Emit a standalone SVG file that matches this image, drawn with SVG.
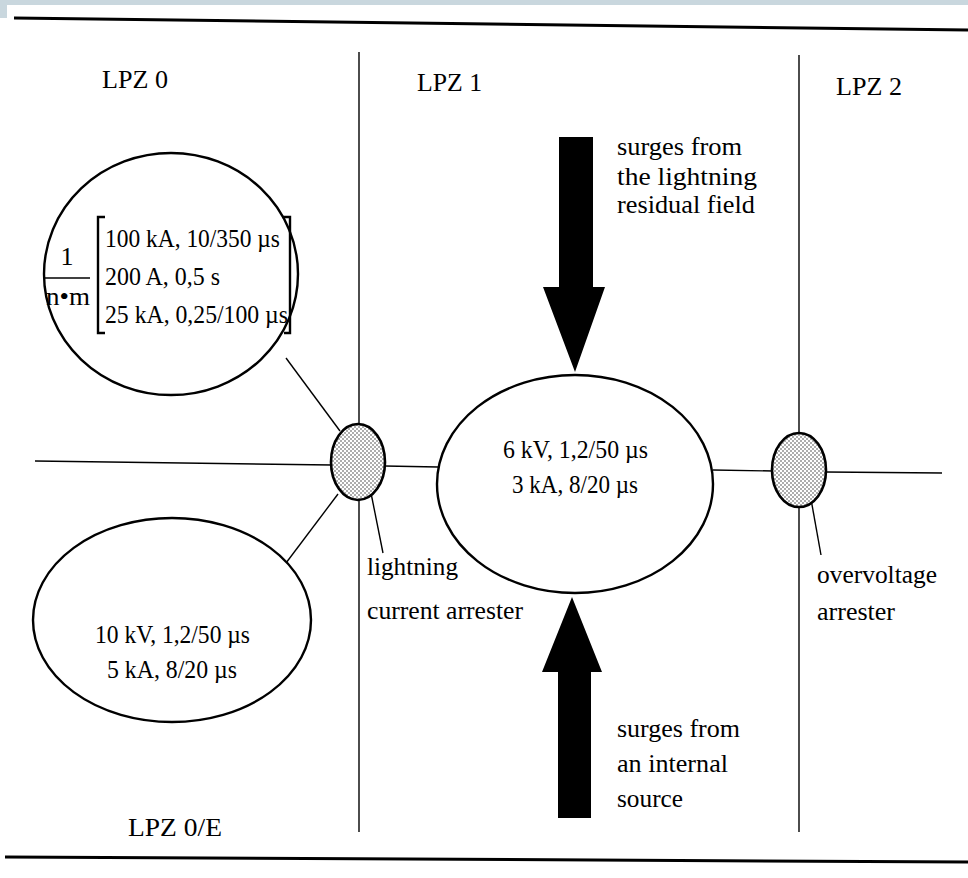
<svg xmlns="http://www.w3.org/2000/svg" width="968" height="878" viewBox="0 0 968 878">
<style>
text{font-family:"Liberation Serif","Times New Roman",serif;fill:#000;}
.lpz{font-size:26px;}
.val{font-size:26px;}
.lbl{font-size:26px;}
.ln{stroke:#000;stroke-width:1.4;fill:none;}
.el{stroke:#000;stroke-width:2.4;fill:#fff;}
.ar{stroke:#000;stroke-width:2.6;fill:url(#dots);}
</style>
<defs>
<pattern id="dots" width="4" height="4" patternUnits="userSpaceOnUse">
<rect width="4" height="4" fill="#fff"/>
<circle cx="1" cy="1" r="0.8" fill="#444"/>
<circle cx="3" cy="3" r="0.8" fill="#444"/>
</pattern>
</defs>
<rect width="968" height="878" fill="#fff"/>
<rect x="0" y="0" width="968" height="5" fill="#c9d7de"/>
<rect x="0" y="0" width="7" height="18" fill="#c9d7de"/>
<line x1="14" y1="18" x2="968" y2="30" stroke="#000" stroke-width="3"/>
<line x1="5" y1="857" x2="968" y2="862" stroke="#000" stroke-width="3"/>

<g id="connectors">
<line class="ln" x1="359" y1="52" x2="359" y2="832"/>
<line class="ln" x1="799" y1="55" x2="799" y2="832"/>
<line class="ln" x1="35" y1="461" x2="332" y2="465"/>
<line class="ln" x1="385" y1="466" x2="438" y2="467"/>
<line class="ln" x1="713" y1="470" x2="773" y2="471"/>
<line class="ln" x1="826" y1="472" x2="942" y2="473"/>
<line class="ln" x1="286" y1="358" x2="340" y2="431"/>
<line class="ln" x1="338" y1="494" x2="283" y2="567"/>
<line class="ln" x1="370" y1="488" x2="383" y2="553"/>
<line class="ln" x1="809" y1="488" x2="821" y2="555"/>
<polygon id="arrow-down" points="559,137 593,137 593,287 605,287 575,372 543,287 559,287" fill="#000"/>
<polygon id="arrow-up" points="572,597 602,672 591,672 591,818 558,818 558,672 542,672" fill="#000"/>
</g>

<g id="zone-labels">
<text class="lpz" x="102" y="88" textLength="66" lengthAdjust="spacingAndGlyphs">LPZ 0</text>
<text class="lpz" x="417" y="91" textLength="65" lengthAdjust="spacingAndGlyphs">LPZ 1</text>
<text class="lpz" x="836" y="95" textLength="66" lengthAdjust="spacingAndGlyphs">LPZ 2</text>
<text class="lpz" x="128" y="836" textLength="94" lengthAdjust="spacingAndGlyphs">LPZ 0/E</text>
</g>

<g id="node-lpz0-lightning">
<ellipse class="el" cx="171" cy="274" rx="127" ry="121"/>
<text class="val" x="67" y="265" text-anchor="middle">1</text>
<line x1="45" y1="278" x2="90" y2="278" stroke="#000" stroke-width="1.6"/>
<text class="val" x="46" y="305" textLength="44" lengthAdjust="spacingAndGlyphs">n•m</text>
<path d="M105,217 L98,217 L98,333 L105,333" stroke="#000" stroke-width="2.4" fill="none"/>
<path d="M282,217 L290,217 L290,333 L284,333" stroke="#000" stroke-width="2.4" fill="none"/>
<text class="val" x="105" y="247" textLength="175" lengthAdjust="spacingAndGlyphs">100 kA,  10/350 µs</text>
<text class="val" x="105" y="285" textLength="115" lengthAdjust="spacingAndGlyphs">200 A, 0,5 s</text>
<text class="val" x="105" y="323" textLength="183" lengthAdjust="spacingAndGlyphs">25 kA, 0,25/100 µs</text>
</g>

<g id="node-lpz0e">
<ellipse class="el" cx="172" cy="620" rx="139" ry="102"/>
<text class="val" x="95" y="643" textLength="155" lengthAdjust="spacingAndGlyphs">10 kV, 1,2/50 µs</text>
<text class="val" x="107" y="678" textLength="130" lengthAdjust="spacingAndGlyphs">5 kA, 8/20 µs</text>
</g>

<g id="node-lpz1">
<ellipse class="el" cx="575" cy="484" rx="138" ry="109"/>
<text class="val" x="503" y="458" textLength="145" lengthAdjust="spacingAndGlyphs">6 kV, 1,2/50 µs</text>
<text class="val" x="512" y="493" textLength="126" lengthAdjust="spacingAndGlyphs">3 kA, 8/20 µs</text>
</g>

<g id="node-lightning-arrester">
<ellipse class="ar" cx="358" cy="462" rx="27" ry="38"/>
<text class="lbl" x="367" y="575" textLength="91" lengthAdjust="spacingAndGlyphs">lightning</text>
<text class="lbl" x="367" y="619" textLength="156" lengthAdjust="spacingAndGlyphs">current arrester</text>
</g>

<g id="node-overvoltage-arrester">
<ellipse class="ar" cx="799" cy="470" rx="27" ry="37"/>
<text class="lbl" x="817" y="583" textLength="120" lengthAdjust="spacingAndGlyphs">overvoltage</text>
<text class="lbl" x="817" y="620" textLength="78" lengthAdjust="spacingAndGlyphs">arrester</text>
</g>

<g id="label-residual">
<text class="lbl" x="617" y="155" textLength="125" lengthAdjust="spacingAndGlyphs">surges from</text>
<text class="lbl" x="617" y="185" textLength="140" lengthAdjust="spacingAndGlyphs">the lightning</text>
<text class="lbl" x="617" y="213" textLength="138" lengthAdjust="spacingAndGlyphs">residual field</text>
</g>

<g id="label-internal">
<text class="lbl" x="617" y="737" textLength="123" lengthAdjust="spacingAndGlyphs">surges from</text>
<text class="lbl" x="617" y="772" textLength="111" lengthAdjust="spacingAndGlyphs">an internal</text>
<text class="lbl" x="617" y="807" textLength="66" lengthAdjust="spacingAndGlyphs">source</text>
</g>
</svg>
